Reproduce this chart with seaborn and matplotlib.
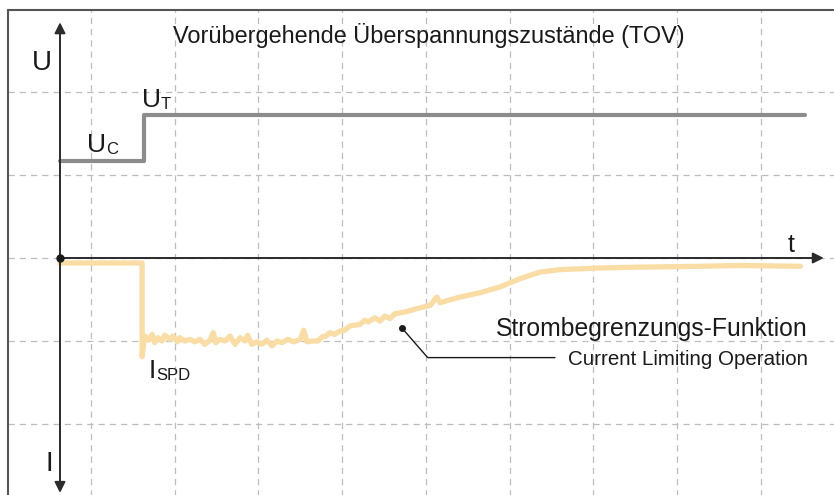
import numpy as np
import pandas as pd
import seaborn as sns

import matplotlib
matplotlib.use('Agg')
import matplotlib.pyplot as plt

# voltage U (step at t=1)
u_t = [0.0, 1.0, 1.0, 8.9]
u_val = [1.17, 1.17, 1.72, 1.72]

# current I through SPD (current limiting)
i_t = [0.0, 0.98, 0.98, 1.01, 1.06, 1.10, 1.13, 1.17, 1.22, 1.25, 1.31, 1.35,
       1.40, 1.43, 1.49, 1.55, 1.61, 1.67, 1.73, 1.79, 1.83, 1.86, 1.91, 1.97,
       2.03, 2.09, 2.15, 2.21, 2.24, 2.29, 2.35, 2.41, 2.47, 2.53, 2.59, 2.65,
       2.72, 2.79, 2.87, 2.91, 2.95, 3.01, 3.08, 3.13, 3.18, 3.22, 3.28, 3.34,
       3.40, 3.46, 3.52, 3.58, 3.64, 3.68, 3.76, 3.82, 3.88, 3.94, 4.00, 4.12,
       4.30, 4.42, 4.50, 4.54, 4.60, 4.78, 5.01, 5.25, 5.49, 5.73, 5.97, 6.45,
       6.93, 7.64, 8.12, 8.84]
i_val = [-0.06, -0.06, -1.19, -0.94, -0.99, -0.92, -1.02, -0.96, -1.00, -0.93,
         -0.98, -0.94, -1.01, -0.96, -1.00, -0.98, -1.01, -0.98, -1.04, -0.99,
         -0.90, -1.02, -0.98, -1.00, -0.94, -1.04, -0.96, -1.00, -0.93, -1.04,
         -1.01, -1.04, -0.99, -1.06, -1.00, -1.02, -0.98, -1.01, -0.98, -0.87,
         -1.01, -1.00, -1.00, -0.95, -0.94, -0.90, -0.92, -0.88, -0.87, -0.82,
         -0.81, -0.80, -0.75, -0.77, -0.72, -0.76, -0.70, -0.73, -0.67, -0.65,
         -0.60, -0.57, -0.47, -0.54, -0.52, -0.47, -0.42, -0.35, -0.25, -0.17,
         -0.14, -0.12, -0.11, -0.10, -0.09, -0.10]

title = "Vorübergehende Überspannungszustände (TOV)"
note_de = "Strombegrenzungs-Funktion"
note_en = "Current Limiting Operation"

sns.set_style("white")
plt.rcParams['font.family'] = ['Liberation Sans', 'DejaVu Sans']

fig = plt.figure(figsize=(8.34, 4.95), dpi=100)
ax = fig.add_axes([0, 0, 1, 1])
ax.set_xlim(-60 / 83.75, 774 / 83.75)
ax.set_ylim(-237 / 83, 258 / 83)
ax.axis('off')

# dashed grid
grid_kw = dict(color='#bdbdbd', lw=0.9, ls=(0, (5, 4)), zorder=0)
for gx in np.arange(0.37, 9, 1.0):
    ax.plot([gx, gx], [-3, 2.99], **grid_kw)
for gy in [-2, -1, 0, 1, 2]:
    ax.plot([-0.62, 10], [gy, gy], **grid_kw)

# frame on left and top
ax.plot([-0.62, -0.62], [-3, 2.99], color='#555555', lw=1.5, zorder=1)
ax.plot([-0.62, 10], [2.99, 2.99], color='#555555', lw=1.5, zorder=1)

sns.lineplot(x=u_t, y=u_val, sort=False, estimator=None, color='#8c8c8c',
             lw=3.0, ax=ax, zorder=3)
sns.lineplot(x=i_t, y=i_val, sort=False, estimator=None, color='#fadca5',
             lw=3.8, ax=ax, zorder=3)

# axes with arrows
arr = dict(arrowstyle='-|>', color='#2b2b2b', lw=1.4, mutation_scale=16,
           shrinkA=0, shrinkB=0)
ax.annotate('', xy=(0, 2.84), xytext=(0, 0), arrowprops=arr, zorder=4)
ax.annotate('', xy=(0, -2.83), xytext=(0, 0), arrowprops=arr, zorder=4)
ax.annotate('', xy=(9.12, 0), xytext=(0, 0), arrowprops=arr, zorder=4)
ax.plot([0], [0], 'o', color='#1a1a1a', ms=5, zorder=5)

# labels
tc = '#1a1a1a'
ax.text(1.35, 2.59, title, fontsize=16.9, color=tc, va='baseline', ha='left')
ax.text(-0.33, 2.27, "U", fontsize=20, color=tc, va='baseline')
ax.text(-0.17, -2.57, "I", fontsize=20, color=tc, va='baseline')
ax.text(8.69, 0.07, "t", fontsize=18, color=tc, va='baseline')

def sub_label(x, y, main, sub):
    t = ax.text(x, y, main, fontsize=19, color=tc, va='bottom')
    ax.annotate(sub, xy=(1, 0), xycoords=t, fontsize=12, color=tc,
                va='bottom', ha='left')

sub_label(0.32, 1.22, "U", "C")
sub_label(0.98, 1.76, "U", "T")
sub_label(1.06, -1.51, "I", "SPD")

ax.text(8.93, -0.94, note_de, fontsize=17.8, color=tc, ha='right', va='baseline')
ax.text(8.93, -1.29, note_en, fontsize=14.8, color=tc, ha='right', va='baseline')
ax.plot([4.08, 4.39, 5.91], [-0.84, -1.20, -1.20], color=tc, lw=1.0, zorder=4)
ax.plot([4.08], [-0.84], 'o', color=tc, ms=4, zorder=5)

fig.savefig('out.png', dpi=100)
plt.close(fig)
